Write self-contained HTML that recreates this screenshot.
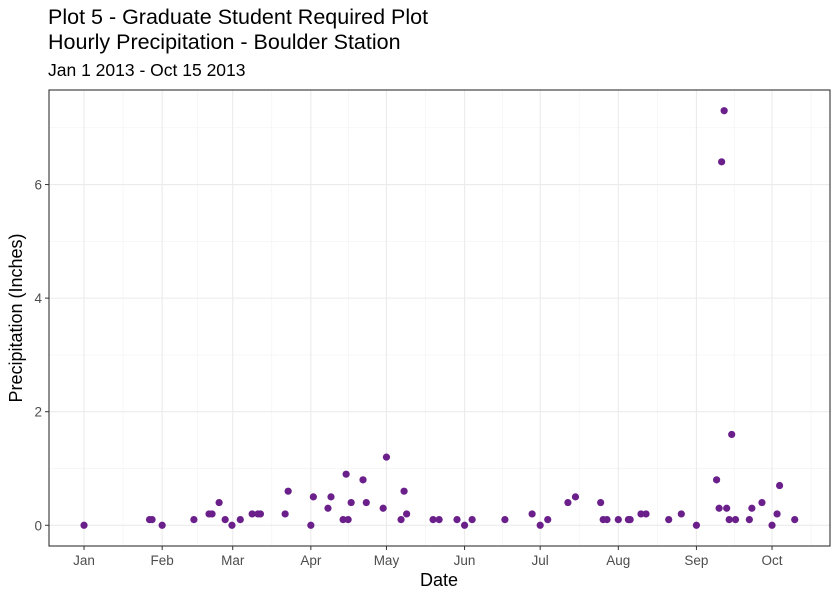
<!DOCTYPE html>
<html><head><meta charset="utf-8"><style>
body{margin:0;background:#fff;font-family:"Liberation Sans",Arial,sans-serif}
</style></head><body>
<svg width="840" height="600" xmlns="http://www.w3.org/2000/svg" font-family="Liberation Sans, Arial, sans-serif">
<text x="48" y="24" font-size="21.5" fill="#000">Plot 5 - Graduate Student Required Plot</text>
<text x="48" y="49" font-size="21.5" fill="#000">Hourly Precipitation - Boulder Station</text>
<text x="48" y="76" font-size="17.5" fill="#000">Jan 1 2013 - Oct 15 2013</text>
<g id="grid"></g>
<g id="pts"></g>
<rect x="49" y="90" width="781" height="456" fill="none" stroke="#333" stroke-width="1.1"/>
<g id="axes"></g>
<text x="439" y="586" font-size="18" text-anchor="middle">Date</text>
<text transform="translate(22,318) rotate(-90)" font-size="18" text-anchor="middle">Precipitation (Inches)</text>
</svg>
<script>
const days=[0,26,27,31,43.6,49.6,50.8,53.6,56,58.7,62,66.7,69,70,79.8,81,90,91,96.8,98,102.8,104.8,104,106,110.7,112,118.7,120,125.8,127,128,138.5,140.9,148,151,154,167,177.8,181,184,192,195,205,206,207.5,212,216,216.7,221,223,232,237,243,251,252,253,254,255,256,258.5,257,264,265,269,273,275,276,282];
const precip=[0,0.1,0.1,0,0.1,0.2,0.2,0.4,0.1,0,0.1,0.2,0.2,0.2,0.2,0.6,0,0.5,0.3,0.5,0.1,0.1,0.9,0.4,0.8,0.4,0.3,1.2,0.1,0.6,0.2,0.1,0.1,0.1,0,0.1,0.1,0.2,0,0.1,0.4,0.5,0.4,0.1,0.1,0.1,0.1,0.1,0.2,0.2,0.1,0.2,0,0.8,0.3,6.4,7.3,0.3,0.1,0.1,1.6,0.1,0.3,0.4,0,0.2,0.7,0.1];
const monthLabels=["Jan","Feb","Mar","Apr","May","Jun","Jul","Aug","Sep","Oct"];
const monthDays=[0,31,59,90,120,151,181,212,243,273];
const yTicks=[0,2,4,6];
const X0=49,X1=830,Y0=546,Y1=90;
const dMin=-13.9,dMax=296,vMin=-0.365,vMax=7.665;
const xs=d=>X0+(d-dMin)/(dMax-dMin)*(X1-X0);
const ys=v=>Y0-(v-vMin)/(vMax-vMin)*(Y0-Y1);
const NS="http://www.w3.org/2000/svg";
function mk(tag,attrs,parent){const e=document.createElementNS(NS,tag);for(const k in attrs)e.setAttribute(k,attrs[k]);parent.appendChild(e);return e;}
const grid=document.getElementById('grid'),axes=document.getElementById('axes'),pts=document.getElementById('pts');
for(let v=1;v<=7;v+=2){const l=mk('line',{x1:X0,x2:X1,y1:ys(v),y2:ys(v),stroke:'#f2f2f2','stroke-width':0.6},grid);

}
for(let i=0;i<monthDays.length;i++){const a=monthDays[i],b=i+1<monthDays.length?monthDays[i+1]:304;const m=(a+b)/2;
if(xs(m)<X1){const l=mk('line',{x1:xs(m),x2:xs(m),y1:Y0,y2:Y1,stroke:'#f2f2f2','stroke-width':0.6},grid);

}}
yTicks.forEach(v=>{const y=ys(v);
const l=mk('line',{x1:X0,x2:X1,y1:y,y2:y,stroke:'#ebebeb','stroke-width':1.1},grid);


const t=mk('line',{x1:X0-4,x2:X0,y1:y,y2:y,stroke:'#333'},axes);


const tx=mk('text',{x:X0-7,y:y+5,'font-size':13.5,fill:'#4d4d4d','text-anchor':'end'},axes);tx.textContent=v;

});
monthDays.forEach((d,i)=>{const x=xs(d);
const l=mk('line',{x1:x,x2:x,y1:Y0,y2:Y1,stroke:'#ebebeb','stroke-width':1.1},grid);


const t=mk('line',{x1:x,x2:x,y1:Y0,y2:Y0+4,stroke:'#333'},axes);


const tx=mk('text',{x:x,y:Y0+19,'font-size':13.5,fill:'#4d4d4d','text-anchor':'middle'},axes);tx.textContent=monthLabels[i];

});
days.forEach((d,i)=>{const c=mk('circle',{cx:xs(d),cy:ys(precip[i]),r:3.6,fill:'#6a1f8a'},pts);

});
</script>
</body></html>
